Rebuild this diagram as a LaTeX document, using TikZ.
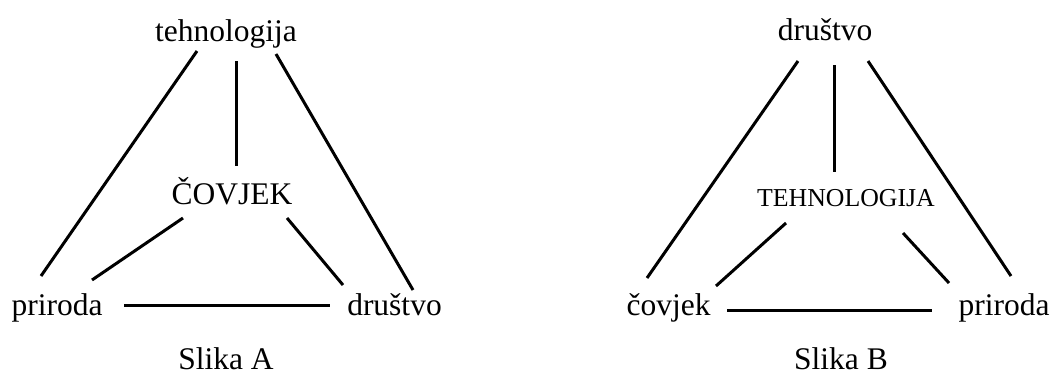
\documentclass[tikz,border=0pt]{standalone}
\usepackage{fontspec}
\setmainfont{Liberation Serif}
\begin{document}
\begin{tikzpicture}[x=1pt,y=-1pt,
  lbl/.style={anchor=base,inner sep=0pt,font=\fontsize{31.5}{36}\selectfont},
  small/.style={anchor=base,inner sep=0pt,font=\fontsize{25.8}{30}\selectfont},
  link/.style={line width=3pt}]
\useasboundingbox (0,0) rectangle (1056,373);
% Slika A
\node[lbl] (tA) at (226,41) {tehnologija};
\node[lbl] (cA) at (232,204) {ČOVJEK};
\node[lbl] (pA) at (57,315) {priroda};
\node[lbl] (dA) at (394.5,315) {društvo};
\node[lbl] (sA) at (226,369) {Slika A};
\coordinate (tA1) at (197,51);  \coordinate (pA1) at (41,276);
\coordinate (tA2) at (236,61);  \coordinate (cA2) at (236,166);
\coordinate (tA3) at (276,54);  \coordinate (dA3) at (413,290);
\coordinate (cA4) at (183,218); \coordinate (pA4) at (92,280);
\coordinate (cA5) at (287,218); \coordinate (dA5) at (343,285);
\coordinate (pA6) at (124,305); \coordinate (dA6) at (330,305);
\draw[link] (tA1) -- (pA1);
\draw[link] (tA2) -- (cA2);
\draw[link] (tA3) -- (dA3);
\draw[link] (cA4) -- (pA4);
\draw[link] (cA5) -- (dA5);
\draw[link] (pA6) -- (dA6);
% Slika B
\node[lbl] (dB) at (825,40) {društvo};
\node[small] (tB) at (846,206) {TEHNOLOGIJA};
\node[lbl] (cB) at (668.5,315) {čovjek};
\node[lbl] (pB) at (1004,315) {priroda};
\node[lbl] (sB) at (841,369) {Slika B};
\coordinate (dB1) at (798,61);  \coordinate (cB1) at (647,278);
\coordinate (dB2) at (834,65);  \coordinate (tB2) at (834,172);
\coordinate (dB3) at (868,61);  \coordinate (pB3) at (1011,276);
\coordinate (tB4) at (786,223); \coordinate (cB4) at (716,286);
\coordinate (tB5) at (903,233); \coordinate (pB5) at (949,283);
\coordinate (cB6) at (727,310); \coordinate (pB6) at (932,310);
\draw[link] (dB1) -- (cB1);
\draw[link] (dB2) -- (tB2);
\draw[link] (dB3) -- (pB3);
\draw[link] (tB4) -- (cB4);
\draw[link] (tB5) -- (pB5);
\draw[link] (cB6) -- (pB6);
\end{tikzpicture}
\end{document}
